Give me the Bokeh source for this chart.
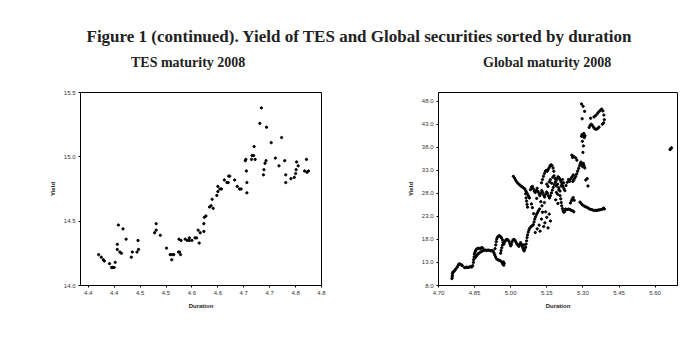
from bokeh.plotting import figure
from bokeh.models import Div, Range1d, FixedTicker, PrintfTickFormatter
from bokeh.layouts import column, row
from bokeh.embed import file_html
from bokeh.resources import INLINE

TITLE = "Figure 1 (continued). Yield of TES and Global securities sorted by duration"
TES_TITLE = "TES maturity 2008"
GLOBAL_TITLE = "Global maturity 2008"
X_LABEL = "Duration"
Y_LABEL = "Yield"

# ---- TES maturity 2008 ----
tes_duration = [
    4.370, 4.375, 4.379, 4.381, 4.391, 4.395, 4.397, 4.400, 4.402, 4.406,
    4.406, 4.408, 4.411, 4.414, 4.417, 4.423, 4.433, 4.435, 4.444, 4.446,
    4.447, 4.478, 4.481, 4.481, 4.489, 4.501, 4.508, 4.511, 4.512, 4.515,
    4.524, 4.526, 4.528, 4.525, 4.529, 4.537, 4.541, 4.545, 4.545, 4.550,
    4.556, 4.559, 4.562, 4.564, 4.566, 4.573, 4.573, 4.574, 4.577, 4.584,
    4.587, 4.589, 4.591, 4.598, 4.600, 4.600, 4.604, 4.607, 4.6125, 4.6175,
    4.620, 4.621, 4.623, 4.6325, 4.6375, 4.642, 4.645, 4.653, 4.654, 4.655,
    4.656, 4.656, 4.665, 4.666, 4.669, 4.670, 4.672, 4.681, 4.684, 4.688,
    4.689, 4.691, 4.693, 4.694, 4.703, 4.711, 4.718, 4.723, 4.729, 4.731,
    4.731, 4.741, 4.7475, 4.750, 4.751, 4.752, 4.755, 4.7675, 4.771, 4.772,
    4.775,
]
tes_yield = [
    14.24, 14.22, 14.20, 14.19, 14.17, 14.14, 14.14, 14.14, 14.18, 14.32,
    14.28, 14.47, 14.26, 14.25, 14.44, 14.36, 14.22, 14.26, 14.26, 14.35,
    14.28, 14.41, 14.48, 14.43, 14.39, 14.29, 14.24, 14.20, 14.24, 14.24,
    14.26, 14.26, 14.24, 14.36, 14.35, 14.36, 14.35, 14.35, 14.37, 14.35,
    14.37, 14.37, 14.43, 14.33, 14.41, 14.42, 14.48, 14.53, 14.54, 14.61,
    14.62, 14.67, 14.60, 14.70, 14.77, 14.73, 14.75, 14.75, 14.82, 14.80,
    14.80, 14.85, 14.85, 14.82, 14.77, 14.75, 14.75, 14.97, 14.98, 14.89,
    14.80, 14.72, 14.98, 15.01, 15.01, 15.08, 14.98, 15.26, 15.38, 14.86,
    14.90, 14.95, 14.97, 15.23, 15.11, 14.99, 14.93, 15.15, 14.97, 14.86,
    14.80, 14.83, 14.84, 14.87, 14.90, 14.96, 14.93, 14.89, 14.98, 14.88,
    14.89,
]
tes_x_ticks = [4.35, 4.40, 4.45, 4.50, 4.55, 4.60, 4.65, 4.70, 4.75, 4.80]
tes_x_labels = ["4.4", "4.4", "4.5", "4.5", "4.6", "4.6", "4.7", "4.7", "4.8", "4.8"]
tes_y_ticks = [14.0, 14.5, 15.0, 15.5]

# ---- Global maturity 2008 ----
glob_duration = [
    4.756, 4.757, 4.758, 4.758, 4.760, 4.763, 4.768, 4.772, 4.778, 4.782,
    4.786, 4.790, 4.795, 4.799, 4.808, 4.813, 4.818, 4.823, 4.828, 4.833,
    4.838, 4.842, 4.845, 4.846, 4.848, 4.849, 4.851, 4.854, 4.857, 4.861,
    4.866, 4.870, 4.875, 4.880, 4.884, 4.852, 4.856, 4.860, 4.865, 4.870,
    4.876, 4.882, 4.888, 4.894, 4.900, 4.906, 4.912, 4.918, 4.923, 4.928,
    4.931, 4.934, 4.937, 4.941, 4.946, 4.951, 4.956, 4.961, 4.965, 4.968,
    4.971, 4.973, 4.970, 4.935, 4.938, 4.940, 4.942, 4.945, 4.949, 4.953,
    4.958, 4.962, 4.966, 4.968, 4.966, 4.963, 4.960, 4.958, 4.972, 4.976,
    4.980, 4.985, 4.990, 4.994, 4.997, 5.000, 5.003, 5.006, 5.010, 5.014,
    5.018, 5.022, 5.026, 5.030, 5.034, 5.038, 5.041, 5.044, 5.047, 5.050,
    5.053, 5.056, 5.058, 5.055, 5.062, 5.064, 5.066, 5.068, 5.070, 5.073,
    5.076, 5.080, 5.085, 5.090, 5.094, 5.097, 5.100, 5.103, 5.107, 5.111,
    5.115, 5.102, 5.110, 5.118, 5.122, 5.128, 5.132, 5.137, 5.142, 5.145,
    5.150, 5.155, 5.160, 5.165, 5.011, 5.016, 5.020, 5.025, 5.030, 5.036,
    5.042, 5.048, 5.053, 5.058, 5.062, 5.066, 5.070, 5.074, 5.078, 5.062,
    5.064, 5.066, 5.068, 5.070, 5.082, 5.086, 5.090, 5.094, 5.098, 5.102,
    5.106, 5.110, 5.114, 5.118, 5.121, 5.125, 5.129, 5.133, 5.137, 5.141,
    5.145, 5.149, 5.153, 5.157, 5.161, 5.165, 5.169, 5.173, 5.177, 5.181,
    5.185, 5.189, 5.193, 5.197, 5.201, 5.205, 5.209, 5.213, 5.217, 5.221,
    5.225, 5.128, 5.132, 5.136, 5.140, 5.144, 5.148, 5.152, 5.156, 5.160,
    5.164, 5.168, 5.172, 5.176, 5.179, 5.150, 5.155, 5.160, 5.165, 5.170,
    5.175, 5.180, 5.185, 5.190, 5.195, 5.200, 5.205, 5.190, 5.195, 5.200,
    5.210, 5.215, 5.220, 5.230, 5.235, 5.240, 5.245, 5.250, 5.255, 5.260,
    5.205, 5.208, 5.210, 5.212, 5.215, 5.218, 5.221, 5.224, 5.228, 5.234,
    5.240, 5.246, 5.252, 5.258, 5.262, 5.248, 5.252, 5.256, 5.260, 5.264,
    5.258, 5.262, 5.266, 5.270, 5.274, 5.278, 5.282, 5.286, 5.289, 5.254,
    5.257, 5.262, 5.270, 5.275, 5.292, 5.296, 5.299, 5.302, 5.305, 5.308,
    5.300, 5.302, 5.298, 5.294, 5.297, 5.300, 5.303, 5.306, 5.309, 5.304,
    5.294, 5.301, 5.307, 5.297, 5.312, 5.318, 5.321, 5.326, 5.330, 5.335,
    5.340, 5.345, 5.350, 5.356, 5.362, 5.367, 5.332, 5.346, 5.353, 5.360,
    5.366, 5.372, 5.378, 5.383, 5.387, 5.389, 5.386, 5.381, 5.288, 5.293,
    5.298, 5.304, 5.310, 5.316, 5.322, 5.328, 5.334, 5.340, 5.346, 5.352,
    5.358, 5.364, 5.370, 5.376, 5.382, 5.386, 5.389, 5.662, 5.665, 5.668,
    5.086, 5.090, 5.095, 5.125, 5.130, 5.120, 5.108, 5.140, 5.187, 5.196,
]
glob_yield = [
    9.5, 9.9, 10.2, 10.6, 10.9, 11.0, 11.3, 11.6, 12.0, 12.4,
    12.7, 12.6, 12.5, 12.3, 11.9, 11.9, 12.0, 11.9, 12.0, 12.1,
    12.0, 12.3, 13.0, 13.6, 14.2, 14.8, 15.2, 15.5, 15.8, 16.0,
    16.1, 16.0, 16.1, 16.2, 16.1, 14.0, 14.3, 14.6, 14.9, 15.1,
    15.3, 15.5, 15.6, 15.7, 15.6, 15.7, 15.6, 15.5, 15.6, 15.4,
    15.0, 14.6, 14.2, 13.8, 13.6, 13.5, 13.4, 13.2, 12.9, 12.6,
    12.4, 12.8, 13.1, 16.0, 16.8, 17.5, 18.1, 18.5, 18.7, 18.8,
    18.6, 18.3, 17.9, 17.4, 16.8, 16.2, 15.6, 15.0, 17.0, 17.5,
    17.9, 18.0, 17.8, 17.5, 17.0, 16.6, 16.9, 17.5, 17.9, 18.0,
    17.8, 17.4, 17.0, 16.8, 16.5, 16.9, 17.3, 17.0, 16.6, 16.2,
    15.8, 15.5, 15.9, 16.8, 16.3, 17.0, 17.7, 18.4, 19.0, 19.6,
    20.1, 20.5, 20.8, 21.0, 21.2, 21.8, 22.4, 22.9, 23.4, 23.8,
    24.2, 19.5, 20.3, 21.1, 19.8, 22.4, 23.9, 20.8, 21.6, 24.0,
    22.8, 20.5, 23.5, 22.0, 31.7, 31.3, 30.9, 30.5, 30.2, 29.9,
    29.6, 29.4, 29.2, 29.0, 28.6, 28.2, 27.8, 27.4, 27.0, 27.9,
    27.0, 26.3, 25.6, 25.0, 28.8, 29.3, 29.5, 29.0, 28.5, 28.2,
    28.6, 29.1, 28.4, 27.9, 27.5, 28.0, 28.6, 28.2, 27.6, 27.2,
    27.8, 28.3, 28.0, 27.4, 27.0, 27.5, 28.1, 28.7, 29.3, 29.9,
    30.4, 30.8, 31.2, 31.6, 31.4, 31.0, 30.5, 30.0, 29.5, 29.0,
    28.6, 30.3, 31.0, 31.7, 32.3, 32.8, 33.0, 32.8, 33.2, 33.6,
    34.0, 34.2, 34.0, 33.5, 32.8, 30.0, 29.5, 30.5, 31.0, 30.2,
    31.5, 31.8, 31.2, 29.6, 30.0, 29.2, 28.5, 28.2, 27.8, 28.8,
    29.6, 31.0, 30.3, 29.7, 30.4, 31.0, 30.6, 31.2, 31.6, 32.0,
    27.5, 26.8, 26.0, 25.3, 24.7, 24.2, 23.9, 24.1, 24.6, 24.5,
    24.6, 24.5, 24.3, 24.2, 24.0, 25.9, 26.4, 26.8, 27.1, 26.5,
    30.6, 30.9, 31.3, 31.7, 32.2, 32.8, 33.4, 34.0, 34.5, 36.3,
    35.8, 36.0, 35.7, 35.2, 34.8, 34.2, 33.8, 34.5, 34.0, 33.5,
    36.9, 38.3, 39.3, 40.4, 40.8, 40.6, 40.3, 40.1, 40.5, 41.0,
    47.4, 46.9, 45.8, 44.2, 30.9, 31.2, 29.6, 42.3, 42.8, 43.0,
    42.7, 42.3, 42.0, 41.9, 42.1, 42.4, 44.3, 44.6, 44.9, 45.3,
    45.7, 46.0, 46.3, 45.9, 45.0, 44.0, 43.3, 43.0, 26.1, 25.8,
    25.5, 25.3, 25.1, 25.0, 24.8, 24.6, 24.5, 24.4, 24.3, 24.3,
    24.3, 24.4, 24.4, 24.5, 24.6, 24.8, 24.6, 37.5, 37.7, 37.9,
    25.7, 24.9, 23.6, 26.2, 25.3, 24.6, 26.9, 26.0, 26.6, 25.8,
]
glob_x_ticks = [4.70, 4.85, 5.00, 5.15, 5.30, 5.45, 5.60]
glob_y_ticks = [8.0, 13.0, 18.0, 23.0, 28.0, 33.0, 38.0, 43.0, 48.0]

SANS = "Liberation Sans"
SERIF = "Liberation Serif"


def style(p):
    p.outline_line_color = "black"
    p.outline_line_width = 1
    p.xgrid.visible = False
    p.ygrid.visible = False
    p.background_fill_color = "white"
    p.border_fill_color = "white"
    for ax in (p.xaxis[0], p.yaxis[0]):
        ax.axis_line_color = "black"
        ax.major_tick_line_color = "black"
        ax.major_tick_out = 2
        ax.major_tick_in = 0
        ax.minor_tick_line_color = None
        ax.major_label_text_font = SANS
        ax.major_label_text_font_size = "6px"
        ax.major_label_text_color = "#333333"
        ax.major_label_standoff = 3
        ax.axis_label_text_font = SANS
        ax.axis_label_text_font_size = "6px"
        ax.axis_label_text_font_style = "bold"
        ax.axis_label_text_color = "#222222"
        ax.axis_label_standoff = 5


# Left chart
p1 = figure(width=380, height=262, output_backend="svg", toolbar_location=None,
            x_range=Range1d(4.335, 4.80), y_range=Range1d(14.0, 15.5),
            min_border_left=80, min_border_right=59, min_border_top=11, min_border_bottom=57,
            x_axis_label=X_LABEL, y_axis_label=Y_LABEL)
p1.scatter(tes_duration, tes_yield, size=2.3, color="black", marker="circle")
style(p1)
p1.xaxis.ticker = FixedTicker(ticks=tes_x_ticks)
p1.xaxis.major_label_overrides = {t: l for t, l in zip(tes_x_ticks, tes_x_labels)}
p1.yaxis.ticker = FixedTicker(ticks=tes_y_ticks)
p1.yaxis.formatter = PrintfTickFormatter(format="%.1f")

# Right chart
p2 = figure(width=310, height=262, output_backend="svg", toolbar_location=None,
            x_range=Range1d(4.70, 5.693), y_range=Range1d(8.0, 49.9),
            min_border_left=58, min_border_right=13, min_border_top=12, min_border_bottom=51,
            x_axis_label=X_LABEL, y_axis_label=Y_LABEL)
p2.scatter(glob_duration, glob_yield, size=2.3, color="black", marker="circle")
style(p2)
p2.xaxis.ticker = FixedTicker(ticks=glob_x_ticks)
p2.xaxis.formatter = PrintfTickFormatter(format="%.2f")
p2.yaxis.ticker = FixedTicker(ticks=glob_y_ticks)
p2.yaxis.formatter = PrintfTickFormatter(format="%.1f")

head_html = (
    f'<div style="position:relative;width:690px;height:80px;font-family:\'{SERIF}\',serif;'
    f'font-weight:bold;color:#222222;">'
    f'<div style="position:absolute;left:0px;top:27px;width:718px;text-align:center;'
    f'font-size:17px;line-height:20px;white-space:nowrap;">{TITLE}</div>'
    f'<div style="position:absolute;left:131px;top:55px;font-size:14px;line-height:16px;'
    f'white-space:nowrap;">{TES_TITLE}</div>'
    f'<div style="position:absolute;left:483px;top:55px;font-size:14px;line-height:16px;'
    f'white-space:nowrap;">{GLOBAL_TITLE}</div>'
    f'</div>'
)
head = Div(text=head_html, width=690, height=80, margin=(0, 0, 0, 0))

layout = column(head, row(p1, p2, spacing=0), spacing=0)
open("out.html", "w").write(file_html(layout, INLINE))
